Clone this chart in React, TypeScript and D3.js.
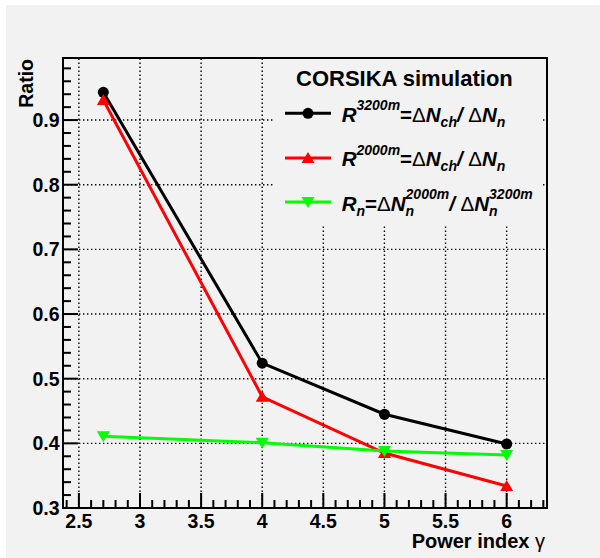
import React, { useEffect, useRef } from "react";
import * as d3 from "d3";

// Power index of the primary spectrum
const gammas = [2.7, 4, 5, 6];
// R^3200m = dNch / dNn
const r3200 = [0.943, 0.524, 0.445, 0.399];
// R^2000m = dNch / dNn
const r2000 = [0.931, 0.472, 0.385, 0.334];
// Rn = dNn(2000m) / dNn(3200m)
const rn = [0.411, 0.401, 0.388, 0.382];

const xMajorTicks = [2.5, 3, 3.5, 4, 4.5, 5, 5.5, 6];
const xTickLabels = ["2.5", "3", "3.5", "4", "4.5", "5", "5.5", "6"];
const yMajorTicks = [0.3, 0.4, 0.5, 0.6, 0.7, 0.8, 0.9];
const yTickLabels = ["0.3", "0.4", "0.5", "0.6", "0.7", "0.8", "0.9"];

const W = 600;
const H = 558;
const FONT = "'Liberation Sans', Arial, Helvetica, sans-serif";
const BG = "#f2f2f2";
const MAIN = 20.5;
const SMALL = 14;

type Piece = {
  t?: string;
  size?: number;
  italic?: boolean;
  bold?: boolean;
  dy?: number;
  sup?: Piece;
  sub?: Piece;
};

function drawRich(
  g: d3.Selection<SVGGElement, unknown, null, undefined>,
  x0: number,
  y0: number,
  pieces: Piece[]
) {
  let x = x0;
  const put = (p: Piece, px: number) => {
    const t = g
      .append("text")
      .attr("x", px)
      .attr("y", y0 + (p.dy ?? 0))
      .attr("font-family", FONT)
      .attr("font-size", p.size ?? MAIN)
      .attr("font-style", p.italic === false ? "normal" : "italic")
      .attr("font-weight", p.bold === false ? "normal" : "bold")
      .attr("fill", "#000")
      .style("white-space", "pre")
      .text(p.t ?? "");
    return (t.node() as SVGTextElement).getComputedTextLength();
  };
  for (const p of pieces) {
    if (p.sup || p.sub) {
      const w1 = p.sup ? put(p.sup, x) : 0;
      const w2 = p.sub ? put(p.sub, x) : 0;
      x += Math.max(w1, w2);
    } else {
      x += put(p, x);
    }
  }
}

export default function App() {
  const ref = useRef<SVGSVGElement | null>(null);

  useEffect(() => {
    const svg = d3.select(ref.current);
    svg.selectAll("*").remove();

    const left = 63, right = 547, top = 58, bottom = 508;
    const x = d3.scaleLinear().domain([2.37, 6.33]).range([left, right]);
    const y = d3.scaleLinear().domain([0.3, 0.996]).range([bottom, top]);

    // canvas background
    svg.append("rect").attr("width", W).attr("height", H).attr("fill", "#fff");
    svg.append("rect").attr("x", 6).attr("y", 5).attr("width", W - 6).attr("height", H - 5).attr("fill", BG);

    const grid = svg.append("g").attr("stroke", "#000").attr("stroke-width", 1.4).attr("stroke-dasharray", "1.4 2.6");
    xMajorTicks.forEach((v) => {
      grid.append("line").attr("x1", x(v)).attr("x2", x(v)).attr("y1", bottom).attr("y2", top);
    });
    yMajorTicks.slice(1).forEach((v) => {
      grid.append("line").attr("x1", left).attr("x2", right).attr("y1", y(v)).attr("y2", y(v));
    });

    // ticks
    const ticks = svg.append("g").attr("stroke", "#000").attr("stroke-width", 2);
    d3.range(24, 64).map((k) => k / 10).forEach((v) => {
      const major = Math.abs(v * 2 - Math.round(v * 2)) < 1e-6;
      ticks.append("line").attr("x1", x(v)).attr("x2", x(v)).attr("y1", bottom).attr("y2", bottom - (major ? 15 : 8));
    });
    d3.range(15, 50).map((k) => k / 50).forEach((v) => {
      const major = Math.abs(v * 10 - Math.round(v * 10)) < 1e-6;
      ticks.append("line").attr("x1", left).attr("x2", left + (major ? 15 : 8)).attr("y1", y(v)).attr("y2", y(v));
    });

    // series
    const series = [
      { vals: r3200, color: "#000000", marker: "circle" },
      { vals: r2000, color: "#ff0000", marker: "up" },
      { vals: rn, color: "#00ff00", marker: "down" },
    ];
    const drawMarker = (g: any, cx: number, cy: number, kind: string, color: string) => {
      if (kind === "circle") {
        g.append("circle").attr("cx", cx).attr("cy", cy).attr("r", 5.5).attr("fill", color);
      } else {
        const s = kind === "up" ? -1 : 1;
        const pts = [
          [cx - 6.5, cy - s * 5],
          [cx + 6.5, cy - s * 5],
          [cx, cy + s * 6],
        ];
        g.append("polygon").attr("points", pts.map((p) => p.join(",")).join(" ")).attr("fill", color);
      }
    };
    const line = d3.line<number>().x((_, i) => x(gammas[i])).y((d) => y(d));
    const dataG = svg.append("g");
    series.forEach((s) => {
      dataG.append("path").attr("d", line(s.vals)).attr("fill", "none").attr("stroke", s.color).attr("stroke-width", 3);
      s.vals.forEach((v, i) => drawMarker(dataG, x(gammas[i]), y(v), s.marker, s.color));
    });

    // legend
    const lg = svg.append("g");
    lg.append("rect").attr("x", 274).attr("y", 59).attr("width", 268).attr("height", 166).attr("fill", BG);
    lg.append("text")
      .attr("x", 296).attr("y", 86)
      .attr("font-family", FONT).attr("font-size", 22).attr("font-weight", "bold")
      .text("CORSIKA simulation");
    const rowsY = [113.3, 158, 202];
    series.forEach((s, i) => {
      lg.append("line").attr("x1", 285).attr("x2", 331).attr("y1", rowsY[i]).attr("y2", rowsY[i])
        .attr("stroke", s.color).attr("stroke-width", 3);
      drawMarker(lg, 308, rowsY[i], s.marker, s.color);
    });
    const delta: Piece = { t: "\u0394", size: MAIN, italic: false, bold: false };
    const eq: Piece = { t: "=", size: MAIN, italic: false };
    const ratioR = (alt: string): Piece[] => [
      { t: "R", size: MAIN },
      { t: alt, size: SMALL, dy: -11.5 },
      eq, delta, { t: "N", size: MAIN }, { t: "ch", size: SMALL, dy: 5 },
      { t: "/ ", size: MAIN }, delta, { t: "N", size: MAIN }, { t: "n", size: SMALL, dy: 5 },
    ];
    drawRich(lg, 341.7, 121.7, ratioR("3200m"));
    drawRich(lg, 341.7, 166.2, ratioR("2000m"));
    drawRich(lg, 341.7, 210.7, [
      { t: "R", size: MAIN }, { t: "n", size: SMALL, dy: 5 },
      eq, delta, { t: "N", size: MAIN },
      { sup: { t: "2000m", size: SMALL, dy: -11.5 }, sub: { t: "n", size: SMALL, dy: 5 } },
      { t: "/ ", size: MAIN }, delta, { t: "N", size: MAIN },
      { sup: { t: "3200m", size: SMALL, dy: -11.5 }, sub: { t: "n", size: SMALL, dy: 5 } },
    ]);

    // frame
    svg.append("rect").attr("x", left).attr("y", top).attr("width", right - left).attr("height", bottom - top)
      .attr("fill", "none").attr("stroke", "#000").attr("stroke-width", 2);

    // tick labels
    const lab = svg.append("g").attr("font-family", FONT).attr("font-size", 19.5).attr("font-weight", "bold").attr("fill", "#000");
    xMajorTicks.forEach((v, i) => {
      lab.append("text").attr("x", x(v)).attr("y", 528).attr("text-anchor", "middle").text(xTickLabels[i]);
    });
    yMajorTicks.forEach((v, i) => {
      lab.append("text").attr("x", 59.5).attr("y", y(v) + 7).attr("text-anchor", "end").text(yTickLabels[i]);
    });

    // axis titles
    svg.append("text")
      .attr("transform", `translate(33,59) rotate(-90)`)
      .attr("text-anchor", "end")
      .attr("font-family", FONT).attr("font-size", 19.5).attr("font-weight", "bold")
      .text("Ratio");
    const xt = svg.append("text")
      .attr("x", 545).attr("y", 548).attr("text-anchor", "end")
      .attr("font-family", FONT).attr("font-size", 20).attr("font-weight", "bold")
      .style("white-space", "pre");
    xt.append("tspan").text("Power index ");
    xt.append("tspan").attr("font-weight", "normal").text("\u03b3");
  }, []);

  return (
    <svg
      ref={ref}
      width={W}
      height={H}
      style={{ position: "absolute", left: 0, top: 0, display: "block" }}
    />
  );
}
